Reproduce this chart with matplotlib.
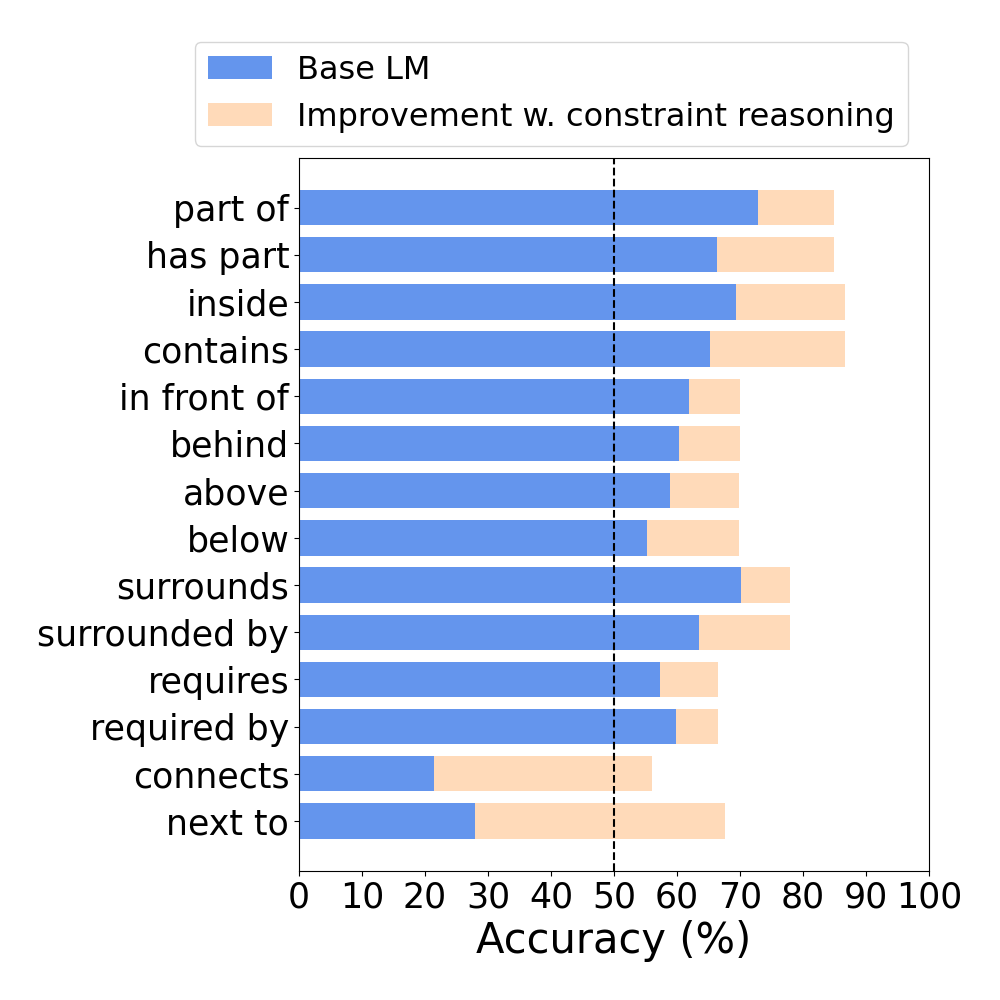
import matplotlib
matplotlib.use("Agg")
import matplotlib.pyplot as plt
import numpy as np

relations = ["part of", "has part", "inside", "contains", "in front of", "behind",
             "above", "below", "surrounds", "surrounded by", "requires",
             "required by", "connects", "next to"]
base_acc = [72.9, 66.3, 69.4, 65.2, 61.9, 60.3, 58.9, 55.2, 70.2, 63.5, 57.3,
            59.8, 21.4, 27.9]
full_acc = [84.9, 84.9, 86.7, 86.7, 70.0, 70.0, 69.8, 69.8, 77.9, 77.9, 66.5,
            66.5, 56.0, 67.6]

base = np.array(base_acc)
gain = np.array(full_acc) - base
ypos = np.arange(1, len(relations) + 1)

fig = plt.figure(figsize=(10, 10), dpi=100)
ax = fig.add_axes([0.299, 0.129, 0.630, 0.713])
ax.barh(ypos, base, height=0.75, color="cornflowerblue", label="Base LM")
ax.barh(ypos, gain, left=base, height=0.75, color="peachpuff",
        label="Improvement w. constraint reasoning")
ax.axvline(50, color="black", ls="--", lw=1.5, zorder=5)

ax.set_ylim(len(relations) + 1.06, -0.05)
ax.set_xlim(0, 100)
ax.set_yticks(ypos)
ax.set_yticklabels(relations, fontsize=25)
ax.set_xticks(np.arange(0, 101, 10))
ax.tick_params(axis="x", labelsize=25)
ax.set_xlabel("Accuracy (%)", fontsize=30)

# legend sits left of the axes centre in the original
fig.legend(loc="upper left", bbox_to_anchor=(0.179, 0.974), fontsize=23,
           handlelength=2.0)
fig.savefig("out.png", dpi=100)
